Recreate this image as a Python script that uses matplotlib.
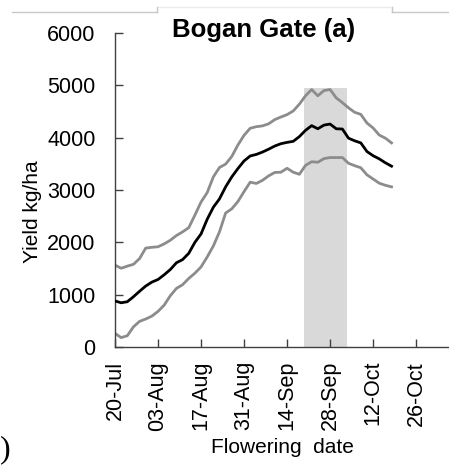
import matplotlib
matplotlib.use("Agg")
import matplotlib.pyplot as plt
from matplotlib.lines import Line2D

# days after 20-Jul, sampled every 2 days
days = list(range(0, 91, 2))

yield_mean = [880, 845, 865, 960, 1065, 1165, 1240, 1290, 1380, 1480,
              1610, 1670, 1790, 2000, 2160, 2440, 2670, 2830, 3060, 3250,
              3410, 3555, 3650, 3680, 3725, 3780, 3840, 3885, 3910, 3930,
              4020, 4140, 4230, 4170, 4240, 4260, 4170, 4165, 3990, 3940,
              3900, 3735, 3655, 3595, 3520, 3455]

yield_upper = [1565, 1505, 1545, 1580, 1690, 1890, 1905, 1915, 1970, 2040,
               2130, 2200, 2280, 2520, 2770, 2950, 3250, 3430, 3495, 3640,
               3860, 4045, 4180, 4210, 4225, 4265, 4345, 4395, 4440, 4510,
               4640, 4800, 4920, 4800, 4900, 4920, 4760, 4670, 4570, 4485,
               4445, 4280, 4185, 4050, 3990, 3900]

yield_lower = [260, 180, 215, 385, 490, 535, 590, 680, 800, 980,
               1120, 1190, 1310, 1410, 1530, 1720, 1930, 2200, 2560, 2640,
               2780, 2970, 3150, 3125, 3185, 3270, 3335, 3340, 3415, 3340,
               3300, 3470, 3540, 3530, 3600, 3620, 3620, 3620, 3510, 3465,
               3425, 3290, 3210, 3130, 3090, 3060]

tick_days = [0, 14, 28, 42, 56, 70, 84, 98]
tick_labels = ["20-Jul", "03-Aug", "17-Aug", "31-Aug", "14-Sep", "28-Sep", "12-Oct", "26-Oct"]

# optimal flowering window (shaded)
window_start = 61.5
window_end = 75.5
window_top = 4950

plt.rcParams["font.family"] = ["Liberation Sans", "DejaVu Sans"]

fig = plt.figure(figsize=(4.49, 4.66), dpi=100)
ax = fig.add_axes([115 / 449, 1 - 347 / 466, 1 - 115 / 449, (347 - 33) / 466])

ax.fill_between([window_start, window_end], 0, window_top, color="#d9d9d9", linewidth=0, zorder=1)
ax.plot(days, yield_upper, color="#8c8c8c", linewidth=2.0, zorder=2)
ax.plot(days, yield_lower, color="#8c8c8c", linewidth=2.0, zorder=2)
ax.plot(days, yield_mean, color="black", linewidth=2.0, zorder=3)

ax.set_xlim(0, 108.7)
ax.set_ylim(0, 6000)
ax.set_yticks(range(0, 6001, 1000))
ax.set_xticks(tick_days)
ax.set_xticklabels(tick_labels, rotation=90)

for side in ["top", "right"]:
    ax.spines[side].set_visible(False)
for side in ["left", "bottom"]:
    ax.spines[side].set_color("#404040")
    ax.spines[side].set_linewidth(1.0)

ax.tick_params(axis="both", direction="in", length=6, width=1.0, color="#404040",
               labelcolor="black")
ax.tick_params(axis="y", pad=14, labelsize=15.5)
ax.tick_params(axis="x", pad=10, labelsize=15.5)

fig.text(264 / 449, 1 - 37 / 466, "Bogan Gate (a)", fontsize=18.5, fontweight="bold",
         ha="center", va="baseline")
fig.text(32 / 449, 1 - 212 / 466, "Yield kg/ha", fontsize=15, rotation=90,
         ha="center", va="center")
fig.text(282 / 449, 1 - 453 / 466, "Flowering  date", fontsize=15,
         ha="center", va="baseline")
fig.text(0.0, 1 - 457 / 466, ")", fontsize=23, family="Liberation Serif",
         ha="left", va="baseline")

# frame remnants along the top edge
fig.add_artist(Line2D([12 / 449, 157 / 449], [1 - 11.5 / 466] * 2, color="#c8c8c8", linewidth=1))
fig.add_artist(Line2D([392 / 449, 1.0], [1 - 11.5 / 466] * 2, color="#c8c8c8", linewidth=1))
fig.add_artist(Line2D([157 / 449, 392 / 449], [1 - 6.5 / 466] * 2, color="#ececec", linewidth=1))
fig.add_artist(Line2D([157 / 449, 157 / 449], [1 - 6.5 / 466, 1 - 11.5 / 466], color="#c8c8c8", linewidth=1))
fig.add_artist(Line2D([392 / 449, 392 / 449], [1 - 6.5 / 466, 1 - 11.5 / 466], color="#c8c8c8", linewidth=1))

fig.savefig("out.png", dpi=100)
plt.close(fig)
